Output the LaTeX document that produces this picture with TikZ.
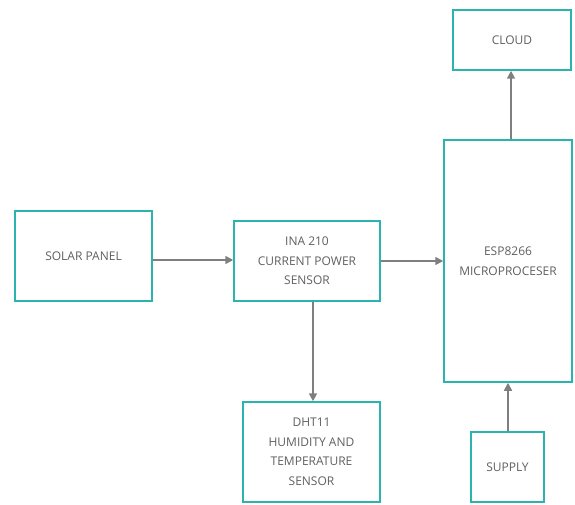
\documentclass[tikz,border=0pt]{standalone}
\usepackage{fontspec}
\setmainfont{Open Sans}
\usetikzlibrary{arrows.meta}
\definecolor{boxc}{HTML}{2BB3AF}
\definecolor{linec}{HTML}{7F7F7F}
\definecolor{txtc}{HTML}{606060}
\tikzset{
  blk/.style={draw=boxc, line width=1.5pt, fill=white, text=txtc, align=center, inner sep=0pt,
    font=\fontsize{12}{19.5}\selectfont},
  conn/.style={draw=linec, line width=1.6pt, -{Triangle[length=8pt,width=8pt]}}
}
\begin{document}
\begin{tikzpicture}[x=1pt,y=-1pt]
\useasboundingbox (0,0) rectangle (575,505);
\node[blk, minimum width=137pt, minimum height=90pt] (solar) at (83.5,256) {\raisebox{-1.5pt}{SOLAR PANEL}};
\node[blk, minimum width=146pt, minimum height=80pt] (ina) at (307,261) {INA 210\\CURRENT POWER\\SENSOR};
\node[blk, minimum width=128pt, minimum height=242pt] (esp) at (508,261) {ESP8266\\MICROPROCESER};
\node[blk, minimum width=118pt, minimum height=60pt] (cloud) at (512,40) {CLOUD};
\node[blk, minimum width=137pt, minimum height=100pt] (dht) at (311.5,452) {DHT11\\HUMIDITY AND\\TEMPERATURE\\SENSOR};
\node[blk, minimum width=73pt, minimum height=70pt] (supply) at (507.5,467) {\raisebox{-1.5pt}{SUPPLY}};
\draw[conn] (solar.east |- 0,260) -- (ina.west |- 0,260);
\draw[conn] (ina.east |- 0,261) -- (esp.west |- 0,261);
\draw[conn] (ina.south -| 313,0) -- (dht.north -| 313,0);
\draw[conn] (esp.north -| 511,0) -- (cloud.south -| 511,0);
\draw[conn] (supply.north -| 508,0) -- (esp.south -| 508,0);
\end{tikzpicture}
\end{document}
